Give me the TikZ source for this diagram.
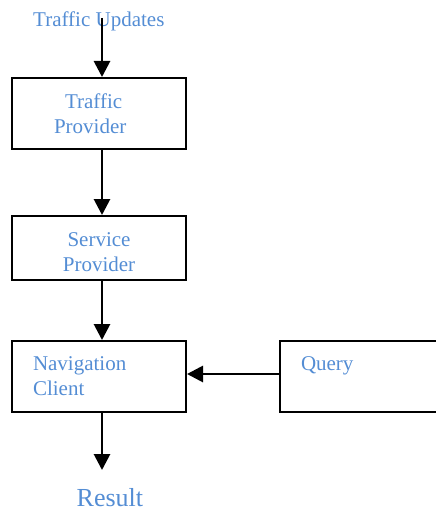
\documentclass[tikz,border=0pt]{standalone}
\usepackage{fontspec}
\setmainfont{Liberation Serif}
\usetikzlibrary{arrows.meta}
\definecolor{txtblue}{RGB}{84,141,212}
\begin{document}
\begin{tikzpicture}[x=1pt,y=-1pt,
  box/.style={draw=black,line width=2pt,rectangle,minimum width=174pt,inner ysep=0pt,text=txtblue,font=\fontsize{21}{25}\selectfont},
  lbl/.style={text=txtblue,inner sep=0pt,anchor=base west},
  arr/.style={line width=2.8pt,-{Triangle[length=16pt,width=16pt]}}]
\useasboundingbox (0,0) rectangle (436,511);
\node[box,minimum height=71pt,align=left,text width=90pt,inner xsep=42pt] (tp) at (99,113.5) {\hspace*{11pt}Traffic\\Provider};
\node[box,minimum height=64pt,align=center,text width=130pt] (sp) at (99,248) {\rule{0pt}{22pt}Service\\Provider};
\node[box,minimum height=71pt,align=left,text width=132pt,inner xsep=21pt] (nav) at (99,376.5) {Navigation\\Client};
\node[box,minimum height=71pt,minimum width=165pt,align=left,text width=123pt,inner xsep=21pt] (query) at (362.5,376.5) {Query\\\mbox{}};
\node[lbl,font=\fontsize{21}{25}\selectfont] (tu) at (33,26.7) {Traffic Updates};
\node[lbl,font=\fontsize{26}{30}\selectfont] (res) at (76.5,506.5) {Result};
\coordinate (xl) at (102,0);
\coordinate (tustart) at (102,18);
\coordinate (resend) at (102,470);
\coordinate (qy) at (0,374);
\draw[arr] (tustart) -- (tp.north -| xl);
\draw[arr] (tp.south -| xl) -- (sp.north -| xl);
\draw[arr] (sp.south -| xl) -- (nav.north -| xl);
\draw[arr] (nav.south -| xl) -- (resend);
\draw[arr] (query.west |- qy) -- (nav.east |- qy);
\end{tikzpicture}
\end{document}
